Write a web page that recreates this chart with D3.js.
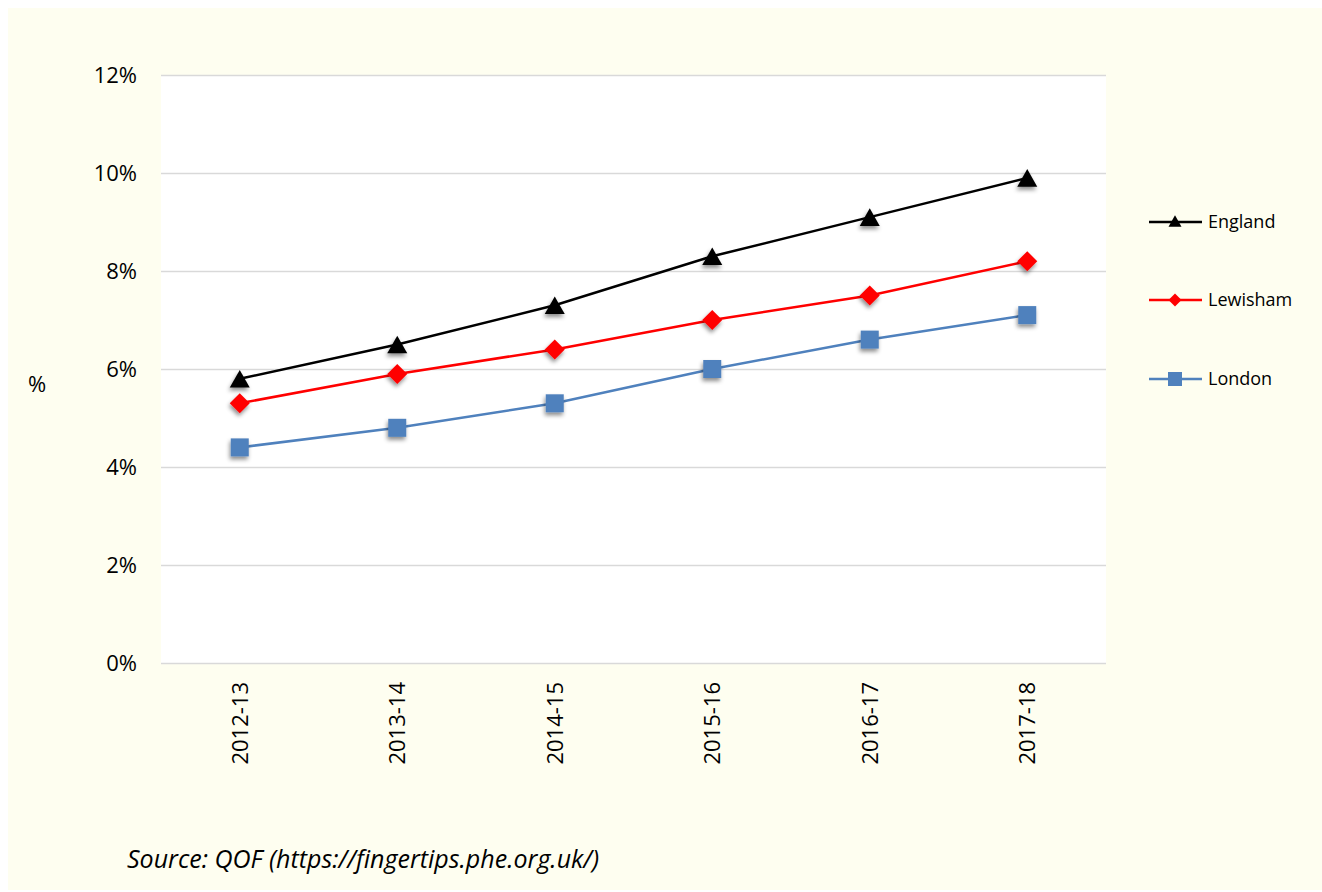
<!DOCTYPE html>
<html>
<head>
<meta charset="utf-8">
<script src="https://cdn.jsdelivr.net/npm/d3@7"></script>
<style>
  html, body { margin: 0; padding: 0; background: #ffffff; }
  svg { display: block; }
  text { font-family: "Open Sans", "Noto Sans", sans-serif; fill: #000; }
</style>
</head>
<body>
<svg id="chart" width="1322" height="892"></svg>
<script>
// Financial years on the x axis
const years = ["2012-13", "2013-14", "2014-15", "2015-16", "2016-17", "2017-18"];

// Recorded prevalence (%) per area
const england  = [5.8, 6.5, 7.3, 8.3, 9.1, 9.9];
const lewisham = [5.3, 5.9, 6.4, 7.0, 7.5, 8.2];
const london   = [4.4, 4.8, 5.3, 6.0, 6.6, 7.1];

// y-axis ticks (%)
const yTicks = [0, 2, 4, 6, 8, 10, 12];

const series = [
  { name: "England",  values: england,  color: "#000000", shape: "triangle" },
  { name: "Lewisham", values: lewisham, color: "#ff0000", shape: "diamond" },
  { name: "London",   values: london,   color: "#4f81bd", shape: "square" }
];

const svg = d3.select("#chart");
const W = 1322, H = 892;

// Cream chart background
svg.append("rect").attr("x", 8).attr("y", 8).attr("width", W - 8).attr("height", 882)
  .attr("fill", "#fefef0");

// Drop shadow for the markers
const defs = svg.append("defs");
const f = defs.append("filter").attr("id", "shadow")
  .attr("x", "-50%").attr("y", "-50%").attr("width", "200%").attr("height", "200%");
f.append("feDropShadow").attr("dx", -1).attr("dy", 3).attr("stdDeviation", 2)
  .attr("flood-color", "#000").attr("flood-opacity", 0.45);

const plot = { left: 161, right: 1106, top: 75, bottom: 663 };

// White plot area
svg.append("rect").attr("x", plot.left).attr("y", plot.top)
  .attr("width", plot.right - plot.left).attr("height", plot.bottom - plot.top)
  .attr("fill", "#ffffff");

const x = d3.scalePoint().domain(years).range([plot.left, plot.right]).padding(0.5);
const y = d3.scaleLinear().domain([0, 12]).range([plot.bottom, plot.top]);

// Gridlines + y labels
const yAxis = d3.axisLeft(y).tickValues(yTicks)
  .tickSize(-(plot.right - plot.left)).tickPadding(24)
  .tickFormat(d => d + "%");
const gy = svg.append("g").attr("transform", `translate(${plot.left},0)`).call(yAxis);
gy.select(".domain").remove();
gy.selectAll(".tick line").attr("stroke", "#d9d9d9").attr("stroke-width", 1.3);
gy.selectAll(".tick text").style("font-size", "22px")
  .style("font-family", "'Open Sans', sans-serif").attr("fill", "#000");

// x labels, rotated
const xAxis = d3.axisBottom(x).tickSize(0).tickPadding(0);
const gx = svg.append("g").attr("transform", `translate(0,${plot.bottom})`).call(xAxis);
gx.select(".domain").remove();
gx.selectAll(".tick text")
  .style("font-size", "22px").style("font-family", "'Open Sans', sans-serif")
  .attr("fill", "#000")
  .attr("transform", "rotate(-90)")
  .attr("text-anchor", "end")
  .attr("x", -19).attr("y", 0).attr("dy", "0.35em");

// Axis title
svg.append("text").attr("x", 37).attr("y", 386).attr("text-anchor", "middle")
  .attr("dominant-baseline", "middle").style("font-size", "22px").text("%");

// Marker shapes, centred on the origin; s is the overall width
function marker(shape, s) {
  const h = s / 2;
  if (shape === "triangle") {
    const th = s * 0.88;
    return `M0,${-th / 2}L${h},${th / 2}L${-h},${th / 2}Z`;
  }
  if (shape === "diamond") return `M0,${-h}L${h},0L0,${h}L${-h},0Z`;
  return `M${-h},${-h}H${h}V${h}H${-h}Z`;
}
const markerSize = { triangle: 20, diamond: 20, square: 18 };
const legendSize = { triangle: 13, diamond: 13, square: 14 };

const line = d3.line().x((d, i) => x(years[i])).y(d => y(d));

series.forEach(s => {
  const g = svg.append("g");
  g.append("path").datum(s.values).attr("d", line)
    .attr("fill", "none").attr("stroke", s.color).attr("stroke-width", 2.5);
  g.selectAll("path.m").data(s.values).enter().append("path").attr("class", "m")
    .attr("d", marker(s.shape, markerSize[s.shape]))
    .attr("transform", (d, i) => `translate(${x(years[i])},${y(d)})`)
    .attr("fill", s.color).attr("filter", "url(#shadow)");
});

// Legend
const legendY = [222, 300, 379];
series.forEach((s, i) => {
  const g = svg.append("g").attr("transform", `translate(0,${legendY[i]})`);
  g.append("line").attr("x1", 1149).attr("x2", 1202).attr("y1", 0).attr("y2", 0)
    .attr("stroke", s.color).attr("stroke-width", 2.5);
  g.append("path").attr("d", marker(s.shape, legendSize[s.shape]))
    .attr("transform", `translate(1175,${s.shape === "triangle" ? -1 : 0})`)
    .attr("fill", s.color);
  g.append("text").attr("x", 1208).attr("y", 0).attr("dy", "0.35em")
    .style("font-size", "18px").text(s.name);
});

// Source note
svg.append("text").attr("x", 127).attr("y", 868)
  .style("font-size", "25px").style("font-style", "italic")
  .text("Source: QOF (https://fingertips.phe.org.uk/)");
</script>
</body>
</html>
